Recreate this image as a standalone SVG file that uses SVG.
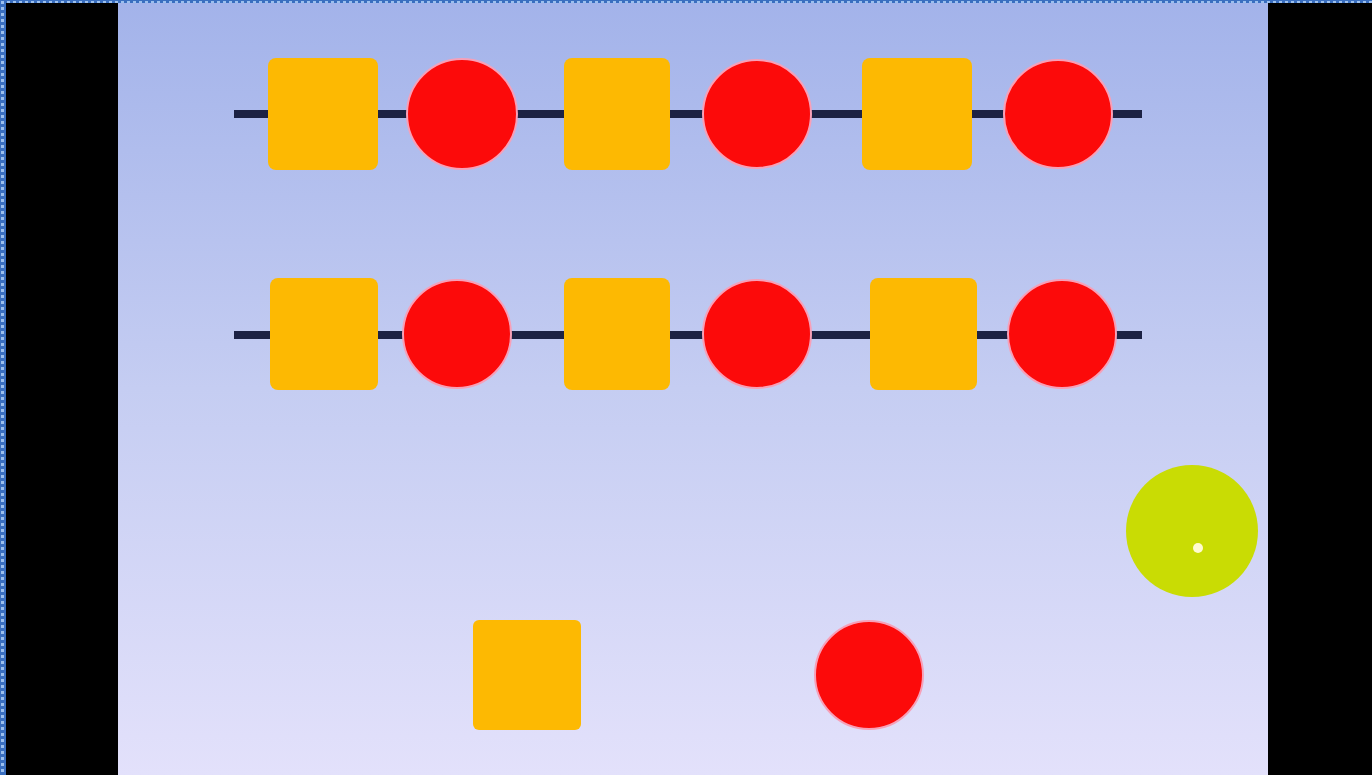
<svg xmlns="http://www.w3.org/2000/svg" width="1372" height="775" viewBox="0 0 1372 775">
<defs>
<linearGradient id="bg" x1="0" y1="0" x2="0" y2="1">
<stop offset="0" stop-color="#a3b3ea"/>
<stop offset="0.5" stop-color="#c5cdf2"/>
<stop offset="1" stop-color="#e3e1fb"/>
</linearGradient>
<pattern id="dots" width="6" height="6" patternUnits="userSpaceOnUse">
<rect width="6" height="6" fill="#3a6fc0"/>
<rect x="1" y="1" width="3" height="3" fill="#9cc0ee"/>
</pattern>
</defs>
<style>
.sq{fill:#fdb902;}
.ci{fill:#fc0a0a;stroke:#f7a0b8;stroke-width:2;}
.ln{stroke:#1c2244;stroke-width:8;}
</style>
<rect width="1372" height="775" fill="#000"/>
<rect x="0" y="0" width="1372" height="3" fill="url(#dots)"/>
<rect x="0" y="0" width="6" height="775" fill="url(#dots)"/>
<rect x="118" y="3" width="1150" height="772" fill="url(#bg)"/>
<g id="connectors">
<line class="ln" x1="234" y1="114" x2="1142" y2="114"/>
<line class="ln" x1="234" y1="335" x2="1142" y2="335"/>
</g>
<g id="row1">
<rect id="r1s1" class="sq" x="268" y="58" width="110" height="112" rx="8"/>
<circle id="r1c1" class="ci" cx="462" cy="114" r="55"/>
<rect id="r1s2" class="sq" x="564" y="58" width="106" height="112" rx="8"/>
<circle id="r1c2" class="ci" cx="757" cy="114" r="54"/>
<rect id="r1s3" class="sq" x="862" y="58" width="110" height="112" rx="8"/>
<circle id="r1c3" class="ci" cx="1058" cy="114" r="54"/>
</g>
<g id="row2">
<rect id="r2s1" class="sq" x="270" y="278" width="108" height="112" rx="8"/>
<circle id="r2c1" class="ci" cx="457" cy="334" r="54"/>
<rect id="r2s2" class="sq" x="564" y="278" width="106" height="112" rx="8"/>
<circle id="r2c2" class="ci" cx="757" cy="334" r="54"/>
<rect id="r2s3" class="sq" x="870" y="278" width="107" height="112" rx="8"/>
<circle id="r2c3" class="ci" cx="1062" cy="334" r="54"/>
</g>
<g id="green">
<circle cx="1192" cy="531" r="66" fill="#c9dc04"/>
<circle cx="1198" cy="548" r="5" fill="#fffbd0"/>
</g>
<g id="bottomSquare">
<rect class="sq" x="473" y="620" width="108" height="110" rx="6"/>
</g>
<g id="bottomCircle">
<circle class="ci" cx="869" cy="675" r="54"/>
</g>
</svg>
